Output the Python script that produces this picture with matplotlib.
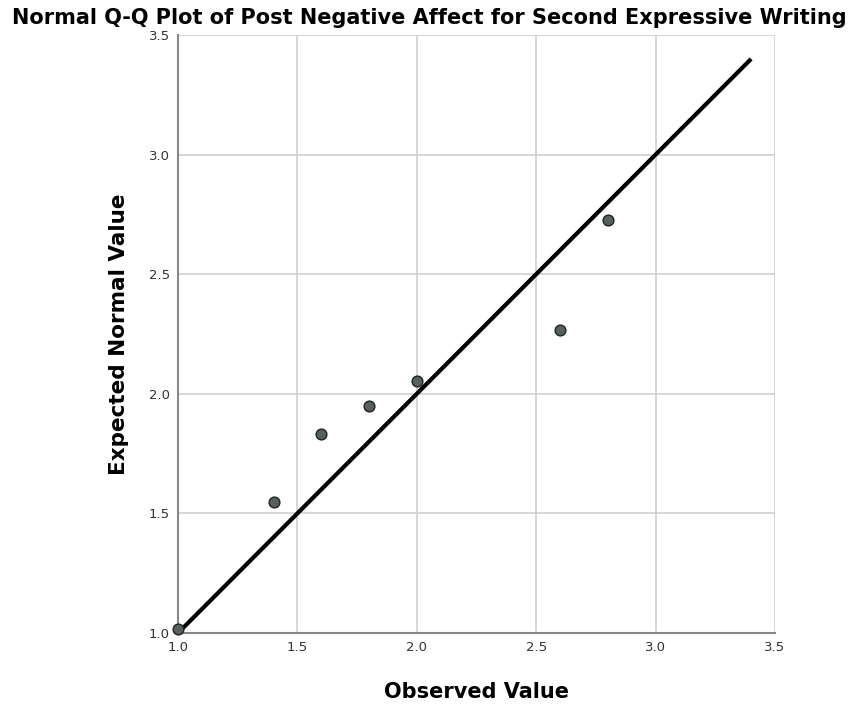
import matplotlib
matplotlib.use("Agg")
import matplotlib.pyplot as plt

observed = [1.0, 1.4, 1.6, 1.8, 2.0, 2.6, 2.8]
expected = [1.017, 1.548, 1.832, 1.949, 2.054, 2.267, 2.727]
line_x = [1.0, 3.4]
line_y = [1.0, 3.4]
ticks = [1.0, 1.5, 2.0, 2.5, 3.0, 3.5]
tick_labels = ["1.0", "1.5", "2.0", "2.5", "3.0", "3.5"]

plt.rcParams['font.family'] = ['DejaVu Sans']
fig = plt.figure(figsize=(8.58, 7.09), dpi=100)
ax = fig.add_axes([178/858, 1-633/709, (775-178)/858, (633-35)/709])

ax.set_xlim(1.0, 3.5)
ax.set_ylim(1.0, 3.5)
ax.set_xticks(ticks)
ax.set_yticks(ticks)
ax.set_xticklabels(tick_labels)
ax.set_yticklabels(tick_labels)
ax.tick_params(length=0, labelsize=9.5, colors='#333333', pad=6)
ax.grid(True, color='#cccccc', linewidth=1.1)
ax.set_axisbelow(True)
for s in ['top', 'right']:
    ax.spines[s].set_visible(False)
for s in ['left', 'bottom']:
    ax.spines[s].set_color('#888888')
    ax.spines[s].set_linewidth(1.5)

ax.plot(line_x, line_y, color='black', linewidth=3, zorder=3, solid_capstyle='butt')
ax.scatter(observed, expected, s=60, facecolor='#56615e', edgecolor='#222222',
           linewidth=1.0, zorder=4, clip_on=False)

ax.set_xlabel("Observed Value", fontsize=15, fontweight='bold', labelpad=20)
ax.set_ylabel("Expected Normal Value", fontsize=15.5, fontweight='bold', labelpad=14)
fig.text(0.5, 1-18/709, "Normal Q-Q Plot of Post Negative Affect for Second Expressive Writing",
         ha='center', va='center', fontsize=15, fontweight='bold')

fig.savefig("out.png", dpi=100)
